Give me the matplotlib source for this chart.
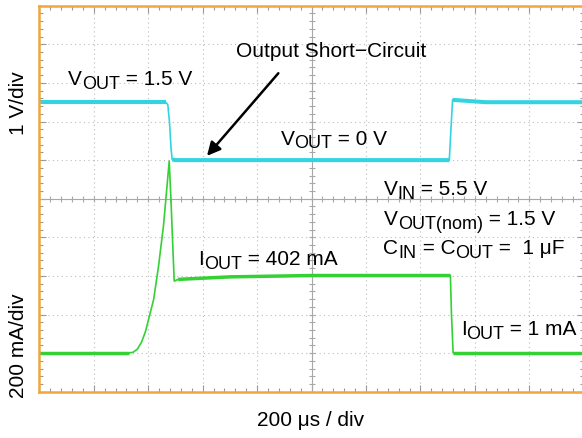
import matplotlib
matplotlib.use("Agg")
import matplotlib.pyplot as plt
from matplotlib.ticker import MultipleLocator

plt.rcParams["font.family"] = ["Liberation Sans", "DejaVu Sans"]

# Time axis in scope divisions (200 us/div)
vout_t = [0, 2.32, 2.36, 2.39, 2.42, 2.44, 2.50, 7.53, 7.56, 7.59, 7.70, 7.90, 8.20, 10]
vout_v = [1.5, 1.5, 1.44, 1.0, 0.3, 0.02, 0.0, 0.0, 0.8, 1.56, 1.55, 1.53, 1.5, 1.5]

iout_t = [0, 1.64, 1.72, 1.80, 1.88, 1.95, 2.03, 2.10, 2.19, 2.28, 2.34, 2.386, 2.418,
          2.454, 2.478, 2.55, 3.5, 5.0, 7.55, 7.57, 7.60, 10]
iout_ma = [1, 1, 4, 20, 58, 112, 200, 278, 451, 658, 848, 995, 796,
           537, 373, 382, 395, 402, 402, 200, 1, 1]

# channel offsets (divisions) and scales
V_OFFSET, V_PER_DIV = 6.0, 1.0
I_OFFSET, MA_PER_DIV = 1.0, 200.0

CYAN = "#33D4E2"
GREEN = "#33D133"
ORANGE = "#EFA73E"
GRIDC = "#bcbcbc"

vout_y = [V_OFFSET + v / V_PER_DIV for v in vout_v]
iout_y = [I_OFFSET + i / MA_PER_DIV for i in iout_ma]

fig = plt.figure(figsize=(5.82, 4.39), dpi=100)
ax = fig.add_axes([39.3 / 582, 46.3 / 439, 544.5 / 582, 386 / 439])
ax.set_xlim(0, 10)
ax.set_ylim(0, 10)

# scope graticule
ax.xaxis.set_major_locator(MultipleLocator(1))
ax.yaxis.set_major_locator(MultipleLocator(1))
ax.xaxis.set_minor_locator(MultipleLocator(0.2))
ax.yaxis.set_minor_locator(MultipleLocator(0.2))
ax.tick_params(which="both", direction="in", top=True, right=True,
               labelbottom=False, labelleft=False, color="#9a9a9a", width=0.8)
ax.tick_params(which="major", length=5)
ax.tick_params(which="minor", length=3)
ax.grid(which="major", color=GRIDC, linestyle=(0, (1, 3)), linewidth=0.8)
for s in ax.spines.values():
    s.set_color(ORANGE)
    s.set_linewidth(1.8)

ax.axhline(5, color="#a8a8a8", lw=0.8)
ax.axvline(5, color="#a8a8a8", lw=0.8)
marks = [k * 0.2 for k in range(51)]
ax.plot(marks, [5] * len(marks), ls="none", marker="|", ms=5, mew=0.8, color="#a8a8a8")
ax.plot([5] * len(marks), marks, ls="none", marker="_", ms=5, mew=0.8, color="#a8a8a8")

# traces: thin for fast edges, thick (noisy look) on settled levels
ax.plot(iout_t, iout_y, color=GREEN, lw=1.2)
for a, b in [(0, 2), (15, 19), (20, 22)]:
    ax.plot(iout_t[a:b], iout_y[a:b], color=GREEN, lw=2.5, solid_capstyle="butt")
ax.plot(vout_t, vout_y, color=CYAN, lw=1.2)
for a, b in [(0, 2), (5, 8), (9, 14)]:
    ax.plot(vout_t[a:b], vout_y[a:b], color=CYAN, lw=2.9, solid_capstyle="butt")


def label(x, y, parts, size=15, sub_size=13, drop=-2.6):
    prev = None
    for s, sub in parts:
        fs = sub_size if sub else size
        dy = drop if sub else 0
        if prev is None:
            prev = ax.text(x, y, s, fontsize=fs, va="baseline", ha="left")
        else:
            prev = ax.annotate(s, xy=(1, y), xycoords=(prev, "data"),
                               xytext=(0, dy), textcoords="offset points",
                               fontsize=fs, va="baseline", ha="left")


label(0.53, 7.97, [("V", 0), ("OUT", 1), (" = 1.5 V", 0)])
label(4.43, 6.42, [("V", 0), ("OUT", 1), (" = 0 V", 0)])
label(6.32, 5.12, [("V", 0), ("IN", 1), (" = 5.5 V", 0)])
label(6.33, 4.34, [("V", 0), ("OUT(nom)", 1), (" = 1.5 V", 0)])
label(6.32, 3.59, [("C", 0), ("IN", 1), (" = C", 0), ("OUT", 1), (" =  1 \u03bcF", 0)])
label(2.92, 3.31, [("I", 0), ("OUT", 1), (" = 402 mA", 0)])
label(7.74, 1.49, [("I", 0), ("OUT", 1), (" = 1 mA", 0)])

ax.text(3.62, 8.69, "Output Short\u2212Circuit", fontsize=15, va="baseline", ha="left")
ax.annotate("", xy=(3.08, 6.11), xytext=(4.39, 8.25),
            arrowprops=dict(arrowstyle="-|>", color="black", lw=1.8,
                            mutation_scale=20, shrinkA=0, shrinkB=0))

fig.text(19 / 582, 1 - 103 / 439, "1 V/div", rotation=90, fontsize=15,
         ha="center", va="center")
fig.text(19 / 582, 1 - 346 / 439, "200 mA/div", rotation=90, fontsize=15,
         ha="center", va="center")
fig.text(311 / 582, 1 - 421 / 439, "200 \u03bcs / div", fontsize=15,
         ha="center", va="center")

fig.savefig("out.png", dpi=100)
